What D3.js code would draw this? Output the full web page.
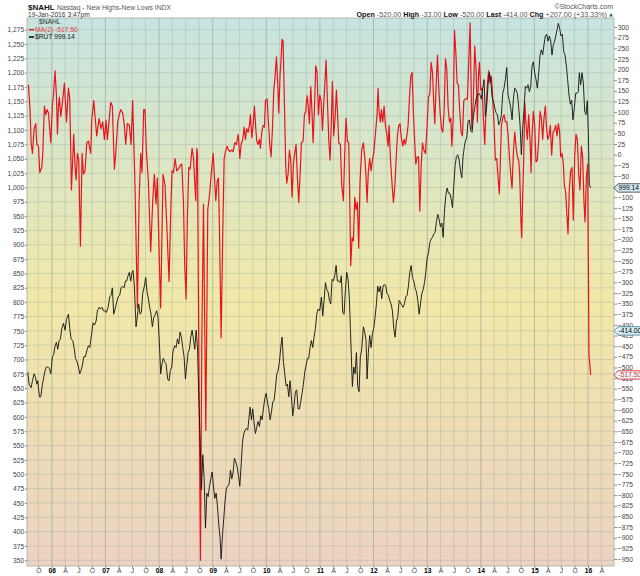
<!DOCTYPE html>
<html>
<head>
<meta charset="utf-8">
<script src="https://d3js.org/d3.v7.min.js"></script>
<style>
  body { margin: 0; background: #fff; }
  svg { display: block; font-family: 'Liberation Sans', Arial, sans-serif; }
  .axis text { fill: #444; }
  .axis line { stroke: #888; }
  .axis .year { font-weight: bold; fill: #000; }
</style>
</head>
<body>
<svg width="640" height="576"></svg>
<script>
// weekly points, [decimal year, value]
// MA(2) of $NAHL, right axis
const maPoints = [
  [2005.564,164],[2005.595,102],[2005.614,28],[2005.639,3],[2005.670,61],[2005.701,73],[2005.720,24],[2005.751,20],
  [2005.775,-42],[2005.813,-30],[2005.831,3],[2005.862,114],[2005.887,94],[2005.912,106],[2005.937,98],[2005.981,28],
  [2006.012,118],[2006.030,139],[2006.061,197],[2006.086,139],[2006.105,48],[2006.124,114],[2006.142,135],[2006.167,90],
  [2006.198,123],[2006.235,168],[2006.273,77],[2006.310,156],[2006.335,131],[2006.366,-83],[2006.409,48],[2006.434,-30],
  [2006.453,-59],[2006.478,3],[2006.503,-13],[2006.534,-215],[2006.565,3],[2006.590,-46],[2006.621,-38],[2006.652,28],
  [2006.683,32],[2006.726,3],[2006.745,81],[2006.782,127],[2006.807,90],[2006.838,44],[2006.882,85],[2006.919,61],
  [2006.950,77],[2006.981,36],[2007.012,81],[2007.037,36],[2007.068,77],[2007.099,123],[2007.130,114],[2007.168,-34],
  [2007.193,3],[2007.230,77],[2007.267,98],[2007.286,106],[2007.323,98],[2007.354,69],[2007.379,24],[2007.410,73],
  [2007.447,69],[2007.478,24],[2007.509,127],[2007.553,-79],[2007.597,-360],[2007.628,-112],[2007.659,3],[2007.683,-42],
  [2007.715,106],[2007.739,106],[2007.764,11],[2007.802,-63],[2007.845,-228],[2007.882,-112],[2007.913,-46],[2007.944,-116],
  [2007.969,-55],[2008.000,-220],[2008.031,-360],[2008.075,-46],[2008.112,-71],[2008.149,-178],[2008.187,-298],[2008.218,-137],
  [2008.243,-38],[2008.268,-42],[2008.299,-9],[2008.330,-38],[2008.361,-34],[2008.392,-26],[2008.424,-22],[2008.455,-112],
  [2008.479,-261],[2008.504,-339],[2008.529,-145],[2008.554,-30],[2008.579,-34],[2008.616,15],[2008.641,-5],[2008.666,-67],
  [2008.685,-108],[2008.703,15],[2008.716,3],[2008.740,-450],[2008.772,-953],[2008.796,-450],[2008.828,-116],[2008.871,-648],
  [2008.908,-129],[2008.939,-96],[2008.983,-30],[2009.008,3],[2009.033,-55],[2009.057,-108],[2009.082,-63],[2009.107,-55],
  [2009.126,-178],[2009.157,-430],[2009.188,-178],[2009.213,-9],[2009.238,7],[2009.269,20],[2009.294,11],[2009.325,7],
  [2009.350,11],[2009.381,7],[2009.412,28],[2009.443,24],[2009.474,48],[2009.486,32],[2009.505,-9],[2009.530,24],
  [2009.561,36],[2009.586,65],[2009.611,36],[2009.635,61],[2009.660,53],[2009.685,69],[2009.704,94],[2009.729,40],
  [2009.754,69],[2009.778,114],[2009.803,61],[2009.822,32],[2009.847,24],[2009.872,36],[2009.890,15],[2009.915,53],
  [2009.940,69],[2009.965,65],[2009.984,127],[2010.015,131],[2010.039,77],[2010.064,24],[2010.089,-5],[2010.114,61],
  [2010.139,152],[2010.164,184],[2010.189,230],[2010.213,168],[2010.232,98],[2010.257,189],[2010.276,226],[2010.294,271],
  [2010.313,267],[2010.338,118],[2010.363,-30],[2010.381,-67],[2010.406,-46],[2010.431,11],[2010.456,-13],[2010.481,-100],
  [2010.506,-22],[2010.530,3],[2010.555,24],[2010.580,-55],[2010.605,-112],[2010.630,-46],[2010.655,28],[2010.686,32],
  [2010.711,94],[2010.736,102],[2010.760,139],[2010.779,118],[2010.804,73],[2010.829,160],[2010.854,98],[2010.872,28],
  [2010.897,102],[2010.922,209],[2010.947,193],[2010.972,94],[2010.997,140],[2011.022,127],[2011.047,57],[2011.078,135],
  [2011.115,222],[2011.140,127],[2011.165,36],[2011.190,-13],[2011.215,86],[2011.233,172],[2011.258,44],[2011.283,86],
  [2011.308,152],[2011.333,86],[2011.351,28],[2011.382,24],[2011.407,-71],[2011.438,-108],[2011.463,3],[2011.488,86],
  [2011.513,32],[2011.538,28],[2011.556,-96],[2011.575,-261],[2011.600,-195],[2011.625,-203],[2011.650,-100],[2011.674,-129],
  [2011.699,-112],[2011.724,-220],[2011.749,-63],[2011.780,11],[2011.811,28],[2011.842,-13],[2011.861,-55],[2011.880,-112],
  [2011.904,-38],[2011.929,-9],[2011.954,-38],[2011.979,-13],[2012.004,3],[2012.035,48],[2012.066,94],[2012.085,156],
  [2012.103,102],[2012.128,77],[2012.147,106],[2012.172,77],[2012.197,114],[2012.221,69],[2012.246,48],[2012.271,20],
  [2012.290,69],[2012.315,-9],[2012.346,-71],[2012.371,-112],[2012.395,-79],[2012.420,-13],[2012.445,44],[2012.470,69],
  [2012.495,73],[2012.513,44],[2012.545,20],[2012.569,36],[2012.594,24],[2012.619,44],[2012.644,69],[2012.669,135],
  [2012.694,184],[2012.719,193],[2012.743,98],[2012.768,28],[2012.787,-22],[2012.812,-5],[2012.837,-5],[2012.862,-133],
  [2012.886,-30],[2012.911,28],[2012.936,11],[2012.967,3],[2012.998,69],[2013.023,135],[2013.048,143],[2013.073,217],
  [2013.098,193],[2013.123,118],[2013.141,73],[2013.166,164],[2013.191,234],[2013.216,156],[2013.241,98],[2013.266,61],
  [2013.290,53],[2013.315,102],[2013.340,226],[2013.365,201],[2013.390,110],[2013.415,77],[2013.440,86],[2013.458,20],
  [2013.483,81],[2013.508,292],[2013.533,242],[2013.558,168],[2013.582,164],[2013.607,102],[2013.632,53],[2013.657,44],
  [2013.682,127],[2013.712,131],[2013.750,131],[2013.800,310],[2013.831,61],[2013.862,135],[2013.886,255],[2013.911,201],
  [2013.936,77],[2013.955,184],[2013.974,217],[2013.998,152],[2014.023,156],[2014.048,86],[2014.073,24],[2014.098,110],
  [2014.123,168],[2014.147,197],[2014.172,168],[2014.197,184],[2014.222,131],[2014.247,69],[2014.272,-13],[2014.297,-9],
  [2014.322,-55],[2014.346,-92],[2014.365,-13],[2014.384,69],[2014.409,86],[2014.433,94],[2014.458,77],[2014.483,77],
  [2014.508,48],[2014.533,-5],[2014.558,-46],[2014.582,-79],[2014.607,3],[2014.632,53],[2014.657,20],[2014.682,-5],
  [2014.707,-13],[2014.725,-46],[2014.750,-162],[2014.763,-195],[2014.781,-96],[2014.800,-13],[2014.819,123],[2014.844,69],
  [2014.868,36],[2014.893,94],[2014.918,36],[2014.937,-42],[2014.955,44],[2014.980,102],[2015.005,69],[2015.030,-17],
  [2015.055,-13],[2015.080,36],[2015.105,102],[2015.130,86],[2015.154,36],[2015.179,86],[2015.204,114],[2015.223,69],
  [2015.248,36],[2015.272,44],[2015.297,69],[2015.322,-1],[2015.347,53],[2015.372,57],[2015.397,69],[2015.422,44],
  [2015.446,73],[2015.471,53],[2015.490,-5],[2015.515,3],[2015.540,-22],[2015.558,-71],[2015.583,-88],[2015.608,-145],
  [2015.627,-186],[2015.652,-79],[2015.676,-38],[2015.701,-30],[2015.726,-154],[2015.751,-5],[2015.776,48],[2015.801,36],
  [2015.826,-46],[2015.851,-83],[2015.875,20],[2015.900,-5],[2015.925,-112],[2015.944,-158],[2015.969,-55],[2015.994,-22],
  [2016.018,-470],[2016.049,-517.5]
];

// $RUT, left axis
const rutPoints = [
  [2005.552,678],[2005.577,657],[2005.614,651],[2005.639,663],[2005.670,675],[2005.695,669],[2005.720,657],[2005.738,663],
  [2005.769,635],[2005.794,635],[2005.825,657],[2005.850,669],[2005.875,681],[2005.900,687],[2005.925,687],[2005.956,684],
  [2005.981,675],[2006.012,705],[2006.036,709],[2006.061,724],[2006.086,730],[2006.111,718],[2006.136,733],[2006.161,736],
  [2006.186,754],[2006.217,763],[2006.248,751],[2006.273,770],[2006.310,779],[2006.335,754],[2006.360,736],[2006.391,733],
  [2006.416,721],[2006.441,702],[2006.472,696],[2006.496,687],[2006.521,675],[2006.546,681],[2006.571,690],[2006.596,705],
  [2006.627,705],[2006.652,715],[2006.683,724],[2006.708,721],[2006.739,742],[2006.770,764],[2006.795,760],[2006.826,767],
  [2006.851,785],[2006.882,791],[2006.907,788],[2006.938,791],[2006.963,785],[2006.994,785],[2007.018,782],[2007.050,791],
  [2007.081,809],[2007.105,812],[2007.130,825],[2007.155,779],[2007.180,788],[2007.211,800],[2007.236,809],[2007.267,812],
  [2007.292,825],[2007.317,828],[2007.348,825],[2007.373,837],[2007.398,837],[2007.422,846],[2007.447,852],[2007.472,837],
  [2007.497,852],[2007.516,855],[2007.541,828],[2007.572,757],[2007.597,776],[2007.621,797],[2007.646,779],[2007.671,782],
  [2007.696,815],[2007.727,828],[2007.752,843],[2007.777,818],[2007.802,806],[2007.826,791],[2007.851,779],[2007.876,757],
  [2007.901,773],[2007.932,779],[2007.957,785],[2007.982,773],[2008.007,730],[2008.031,675],[2008.056,693],[2008.081,702],
  [2008.106,696],[2008.131,693],[2008.162,666],[2008.187,663],[2008.212,681],[2008.237,687],[2008.261,715],[2008.293,724],
  [2008.318,721],[2008.343,736],[2008.368,727],[2008.392,748],[2008.417,739],[2008.442,721],[2008.467,705],[2008.492,666],
  [2008.517,690],[2008.542,712],[2008.566,718],[2008.591,739],[2008.616,751],[2008.641,736],[2008.666,718],[2008.691,751],
  [2008.716,721],[2008.740,638],[2008.765,559],[2008.790,473],[2008.815,534],[2008.840,492],[2008.865,406],[2008.890,467],
  [2008.915,461],[2008.939,479],[2008.964,492],[2008.989,504],[2009.014,479],[2009.039,458],[2009.064,467],[2009.089,443],
  [2009.113,412],[2009.138,388],[2009.157,352],[2009.182,394],[2009.207,424],[2009.231,455],[2009.256,476],[2009.281,479],
  [2009.306,483],[2009.331,507],[2009.356,492],[2009.381,504],[2009.405,528],[2009.430,522],[2009.455,513],[2009.480,498],
  [2009.505,479],[2009.530,516],[2009.555,556],[2009.580,571],[2009.604,577],[2009.629,580],[2009.654,577],[2009.673,595],
  [2009.698,617],[2009.722,595],[2009.747,614],[2009.772,589],[2009.797,571],[2009.822,583],[2009.847,592],[2009.872,583],
  [2009.897,602],[2009.921,595],[2009.946,614],[2009.971,632],[2009.996,641],[2010.021,626],[2010.046,614],[2010.071,595],
  [2010.095,608],[2010.120,626],[2010.145,629],[2010.170,650],[2010.195,675],[2010.220,681],[2010.245,696],[2010.269,721],
  [2010.294,739],[2010.319,696],[2010.344,675],[2010.369,654],[2010.394,657],[2010.419,635],[2010.443,663],[2010.468,635],
  [2010.493,602],[2010.518,620],[2010.543,644],[2010.568,647],[2010.593,614],[2010.617,614],[2010.642,626],[2010.667,641],
  [2010.692,657],[2010.717,678],[2010.742,690],[2010.767,702],[2010.791,702],[2010.816,721],[2010.841,733],[2010.866,721],
  [2010.891,739],[2010.916,754],[2010.941,779],[2010.966,788],[2010.997,785],[2011.028,809],[2011.053,776],[2011.078,803],
  [2011.103,834],[2011.128,822],[2011.152,818],[2011.177,803],[2011.202,797],[2011.227,840],[2011.252,837],[2011.277,846],
  [2011.302,864],[2011.326,837],[2011.351,837],[2011.376,834],[2011.401,846],[2011.426,782],[2011.451,779],[2011.476,822],
  [2011.500,852],[2011.525,840],[2011.550,806],[2011.569,754],[2011.587,705],[2011.606,653],[2011.631,687],[2011.656,675],
  [2011.681,712],[2011.706,653],[2011.730,644],[2011.755,705],[2011.780,718],[2011.811,757],[2011.836,748],[2011.861,733],
  [2011.880,666],[2011.904,712],[2011.929,742],[2011.954,721],[2011.979,745],[2012.004,754],[2012.029,773],[2012.054,797],
  [2012.078,828],[2012.103,818],[2012.128,828],[2012.153,806],[2012.178,828],[2012.203,831],[2012.228,828],[2012.252,815],
  [2012.277,812],[2012.302,803],[2012.327,797],[2012.352,785],[2012.377,754],[2012.402,739],[2012.427,767],[2012.451,773],
  [2012.476,803],[2012.501,800],[2012.526,794],[2012.551,791],[2012.576,797],[2012.600,809],[2012.625,812],[2012.650,828],
  [2012.675,852],[2012.700,864],[2012.725,843],[2012.750,837],[2012.774,825],[2012.799,818],[2012.824,803],[2012.849,779],
  [2012.874,797],[2012.899,815],[2012.924,822],[2012.949,834],[2012.973,852],[2012.998,877],[2013.023,886],[2013.048,904],
  [2013.073,910],[2013.098,913],[2013.123,919],[2013.147,922],[2013.172,941],[2013.197,953],[2013.222,944],[2013.247,931],
  [2013.272,938],[2013.297,913],[2013.321,959],[2013.346,986],[2013.371,999],[2013.396,990],[2013.421,990],[2013.446,980],
  [2013.471,965],[2013.495,1002],[2013.520,1038],[2013.545,1054],[2013.570,1057],[2013.595,1048],[2013.620,1029],[2013.645,1017],
  [2013.669,1054],[2013.694,1072],[2013.712,1081],[2013.737,1087],[2013.762,1115],[2013.787,1118],[2013.812,1099],[2013.837,1096],
  [2013.862,1124],[2013.886,1139],[2013.911,1154],[2013.936,1161],[2013.961,1164],[2013.986,1161],[2014.011,1154],[2014.036,1173],
  [2014.060,1188],[2014.085,1124],[2014.110,1142],[2014.135,1179],[2014.160,1200],[2014.185,1188],[2014.210,1158],[2014.234,1151],
  [2014.259,1139],[2014.284,1130],[2014.309,1127],[2014.334,1109],[2014.359,1115],[2014.384,1127],[2014.409,1164],[2014.433,1173],
  [2014.458,1188],[2014.483,1209],[2014.508,1161],[2014.533,1151],[2014.558,1139],[2014.583,1118],[2014.607,1154],[2014.632,1173],
  [2014.657,1170],[2014.682,1164],[2014.707,1139],[2014.732,1109],[2014.757,1057],[2014.781,1103],[2014.806,1136],[2014.831,1176],
  [2014.856,1173],[2014.881,1179],[2014.906,1167],[2014.931,1176],[2014.955,1212],[2014.980,1219],[2015.005,1200],[2015.030,1188],
  [2015.055,1173],[2015.080,1200],[2015.105,1231],[2015.129,1240],[2015.154,1231],[2015.179,1249],[2015.204,1264],[2015.229,1267],
  [2015.254,1255],[2015.279,1264],[2015.304,1255],[2015.328,1231],[2015.353,1249],[2015.378,1255],[2015.403,1267],[2015.428,1277],
  [2015.446,1286],[2015.471,1277],[2015.496,1264],[2015.521,1267],[2015.546,1237],[2015.571,1231],[2015.596,1212],[2015.620,1188],
  [2015.645,1161],[2015.670,1145],[2015.695,1152],[2015.720,1118],[2015.745,1139],[2015.770,1164],[2015.795,1164],[2015.819,1167],
  [2015.838,1200],[2015.863,1179],[2015.888,1200],[2015.913,1182],[2015.938,1133],[2015.962,1127],[2015.987,1151],[2016.006,1096],
  [2016.024,1005],[2016.049,999.14]
];

const leftTicks = d3.range(350, 1276, 25);
const rightTicks = d3.range(-950, 301, 25);
const monthLetters = { 3: 'A', 6: 'J', 9: 'O' };

const headerFields = [
  ['Open', '-520.00'], ['High', '-33.00'], ['Low', '-520.00'],
  ['Last', '-414.00'], ['Chg', '+207.00 (+33.33%)']
];
const lastRut = 999.14;
const lastNahl = -414.00;
const lastMa = -517.50;

const svg = d3.select('svg');
const width = +svg.attr('width');
const height = +svg.attr('height');

const margin = { top: 18, right: 26, bottom: 10, left: 27 };
const innerWidth = width - margin.left - margin.right;
const innerHeight = height - margin.top - margin.bottom;

const yearToDate = t => {
  const y = Math.floor(t);
  const a = new Date(y, 0, 1), b = new Date(y + 1, 0, 1);
  return new Date(+a + (t - y) * (b - a));
};

const xScale = d3.scaleTime()
  .domain([new Date(2005, 6, 16), new Date(2016, 5, 26)])
  .range([0, innerWidth]);

// left axis carries $RUT, right axis carries $NAHL
const leftScale = d3.scaleLinear()
  .domain([1275, 350])
  .range([11.7, 542.3]);

const rightScale = d3.scaleLinear()
  .domain([300, -950])
  .range([9, 541]);

// background gradient
const grad = svg.append('defs').append('linearGradient')
    .attr('id', 'bg')
    .attr('x1', 0).attr('y1', 0).attr('x2', 0).attr('y2', 1);
[[0, '#c6e4e1'], [0.25, '#dbe6c6'], [0.52, '#f1e8a8'], [0.76, '#eedcb6'], [1, '#ecd3c3']]
  .forEach(([o, c]) => grad.append('stop').attr('offset', o).attr('stop-color', c));

svg.select('defs').append('clipPath').attr('id', 'plotClip')
  .append('rect').attr('width', innerWidth).attr('height', innerHeight);

const g = svg.append('g')
    .attr('transform', `translate(${margin.left},${margin.top})`);

g.append('rect')
    .attr('width', innerWidth)
    .attr('height', innerHeight)
    .attr('fill', 'url(#bg)');

// grid
const quarters = xScale.ticks(d3.timeMonth.every(3));

g.append('g')
  .selectAll('line').data(leftTicks)
  .enter().append('line')
    .attr('x1', 0).attr('x2', innerWidth)
    .attr('y1', d => leftScale(d)).attr('y2', d => leftScale(d))
    .attr('stroke', '#7f8f80').attr('stroke-opacity', 0.3).attr('stroke-width', 0.8);

g.append('g')
  .selectAll('line').data(quarters)
  .enter().append('line')
    .attr('x1', d => xScale(d)).attr('x2', d => xScale(d))
    .attr('y1', 0).attr('y2', innerHeight)
    .attr('stroke', '#7f8f80')
    .attr('stroke-opacity', d => d.getMonth() === 0 ? 0.6 : 0.3)
    .attr('stroke-width', 0.8);

// axes
const axisFont = sel => sel
  .attr('font-size', 6.7)
  .attr('font-family', "'Liberation Sans', Arial, sans-serif");

const leftAxisG = g.append('g').attr('class', 'axis')
  .call(d3.axisLeft(leftScale).tickValues(leftTicks).tickSize(2).tickPadding(0.8))
  .call(axisFont);
const rightAxisG = g.append('g').attr('class', 'axis')
  .attr('transform', `translate(${innerWidth},0)`)
  .call(d3.axisRight(rightScale).tickValues(rightTicks).tickSize(3).tickPadding(0.8))
  .call(axisFont);
const bottomAxisG = g.append('g').attr('class', 'axis')
  .attr('transform', `translate(0,${innerHeight})`)
  .call(d3.axisBottom(xScale).tickValues(quarters).tickSize(2).tickPadding(0.4)
    .tickFormat(d => d.getMonth() === 0 ? d3.timeFormat('%y')(d) : monthLetters[d.getMonth()]))
  .call(axisFont);
bottomAxisG.selectAll('.tick text')
  .classed('year', d => d.getMonth() === 0);
[leftAxisG, rightAxisG, bottomAxisG].forEach(a => a.select('.domain').remove());

g.append('rect')
    .attr('width', innerWidth)
    .attr('height', innerHeight)
    .attr('fill', 'none')
    .attr('stroke', '#a8aca4')
    .attr('stroke-width', 0.8);

// lines
const plot = g.append('g').attr('clip-path', 'url(#plotClip)');

const maLine = d3.line()
  .x(d => xScale(yearToDate(d[0])))
  .y(d => rightScale(d[1]));
const rutLine = d3.line()
  .x(d => xScale(yearToDate(d[0])))
  .y(d => leftScale(d[1]));

plot.append('path')
    .datum(maPoints)
    .attr('d', maLine)
    .attr('fill', 'none')
    .attr('stroke', '#e8141b')
    .attr('stroke-width', 1.2)
    .attr('stroke-linejoin', 'round');

plot.append('path')
    .datum(rutPoints)
    .attr('d', rutLine)
    .attr('fill', 'none')
    .attr('stroke', '#111')
    .attr('stroke-width', 0.9)
    .attr('stroke-linejoin', 'round');

// last-value tags on the right axis
const tags = [
  { y: leftScale(lastRut), text: lastRut.toFixed(2), fill: '#d6ecf2', stroke: '#333', color: '#000' },
  { y: rightScale(lastNahl), text: lastNahl.toFixed(2), fill: '#d6eef4', stroke: '#3d7f93', color: '#000' },
  { y: rightScale(lastMa), text: lastMa.toFixed(2), fill: '#e4f2f6', stroke: '#e8141b', color: '#e23a3a' }
];
const tagG = g.append('g')
  .selectAll('g').data(tags)
  .enter().append('g')
    .attr('transform', d => `translate(${innerWidth},${d.y})`);
tagG.append('path')
    .attr('d', 'M0,0 L4,-4.2 H30 V4.2 H4 Z')
    .attr('fill', d => d.fill)
    .attr('stroke', d => d.stroke)
    .attr('stroke-width', 0.8);
tagG.append('text')
    .attr('x', 4.5)
    .attr('dy', '0.35em')
    .attr('font-size', 6.7)
    .attr('fill', d => d.color)
    .text(d => d.text);

// legend
const legend = g.append('g').attr('font-size', 6.7);
legend.append('text').attr('x', 12).attr('y', 6.3).attr('fill', '#333').text('$NAHL');
legend.append('line').attr('x1', 2).attr('x2', 7).attr('y1', 11.7).attr('y2', 11.7)
  .attr('stroke', '#e8141b').attr('stroke-width', 1.5);
legend.append('text').attr('x', 8).attr('y', 14).attr('fill', '#e23a3a').text(`MA(2) ${lastMa.toFixed(2)}`);
legend.append('line').attr('x1', 2).attr('x2', 7).attr('y1', 19).attr('y2', 19)
  .attr('stroke', '#000').attr('stroke-width', 1.5);
legend.append('text').attr('x', 8).attr('y', 21.3).attr('fill', '#111').text(`$RUT ${lastRut}`);

// header
svg.append('text')
    .attr('x', 28).attr('y', 10)
    .attr('font-size', 8).attr('font-weight', 'bold').attr('fill', '#111')
    .text('$NAHL');
svg.append('text')
    .attr('x', 57).attr('y', 10)
    .attr('font-size', 6.8).attr('fill', '#555')
    .text('Nasdaq - New Highs-New Lows INDX');
svg.append('text')
    .attr('x', 28).attr('y', 16.8)
    .attr('font-size', 6.7).attr('fill', '#333')
    .text('19-Jan-2016 3:47pm');
svg.append('text')
    .attr('x', 613).attr('y', 8.5)
    .attr('text-anchor', 'end')
    .attr('font-size', 7).attr('fill', '#555')
    .text('\u00a9StockCharts.com');

const quote = svg.append('text')
    .attr('x', 607).attr('y', 16.8)
    .attr('text-anchor', 'end')
    .attr('font-size', 7.2);
headerFields.forEach(([label, value], i) => {
  quote.append('tspan').attr('font-weight', 'bold').attr('fill', '#111')
    .text((i ? '  ' : '') + label + ' ');
  quote.append('tspan').attr('fill', '#555').text(value);
});
svg.append('path')
    .attr('d', 'M609,16.5 L613,16.5 L611,13 Z')
    .attr('fill', '#2a7a2a');
</script>
</body>
</html>
